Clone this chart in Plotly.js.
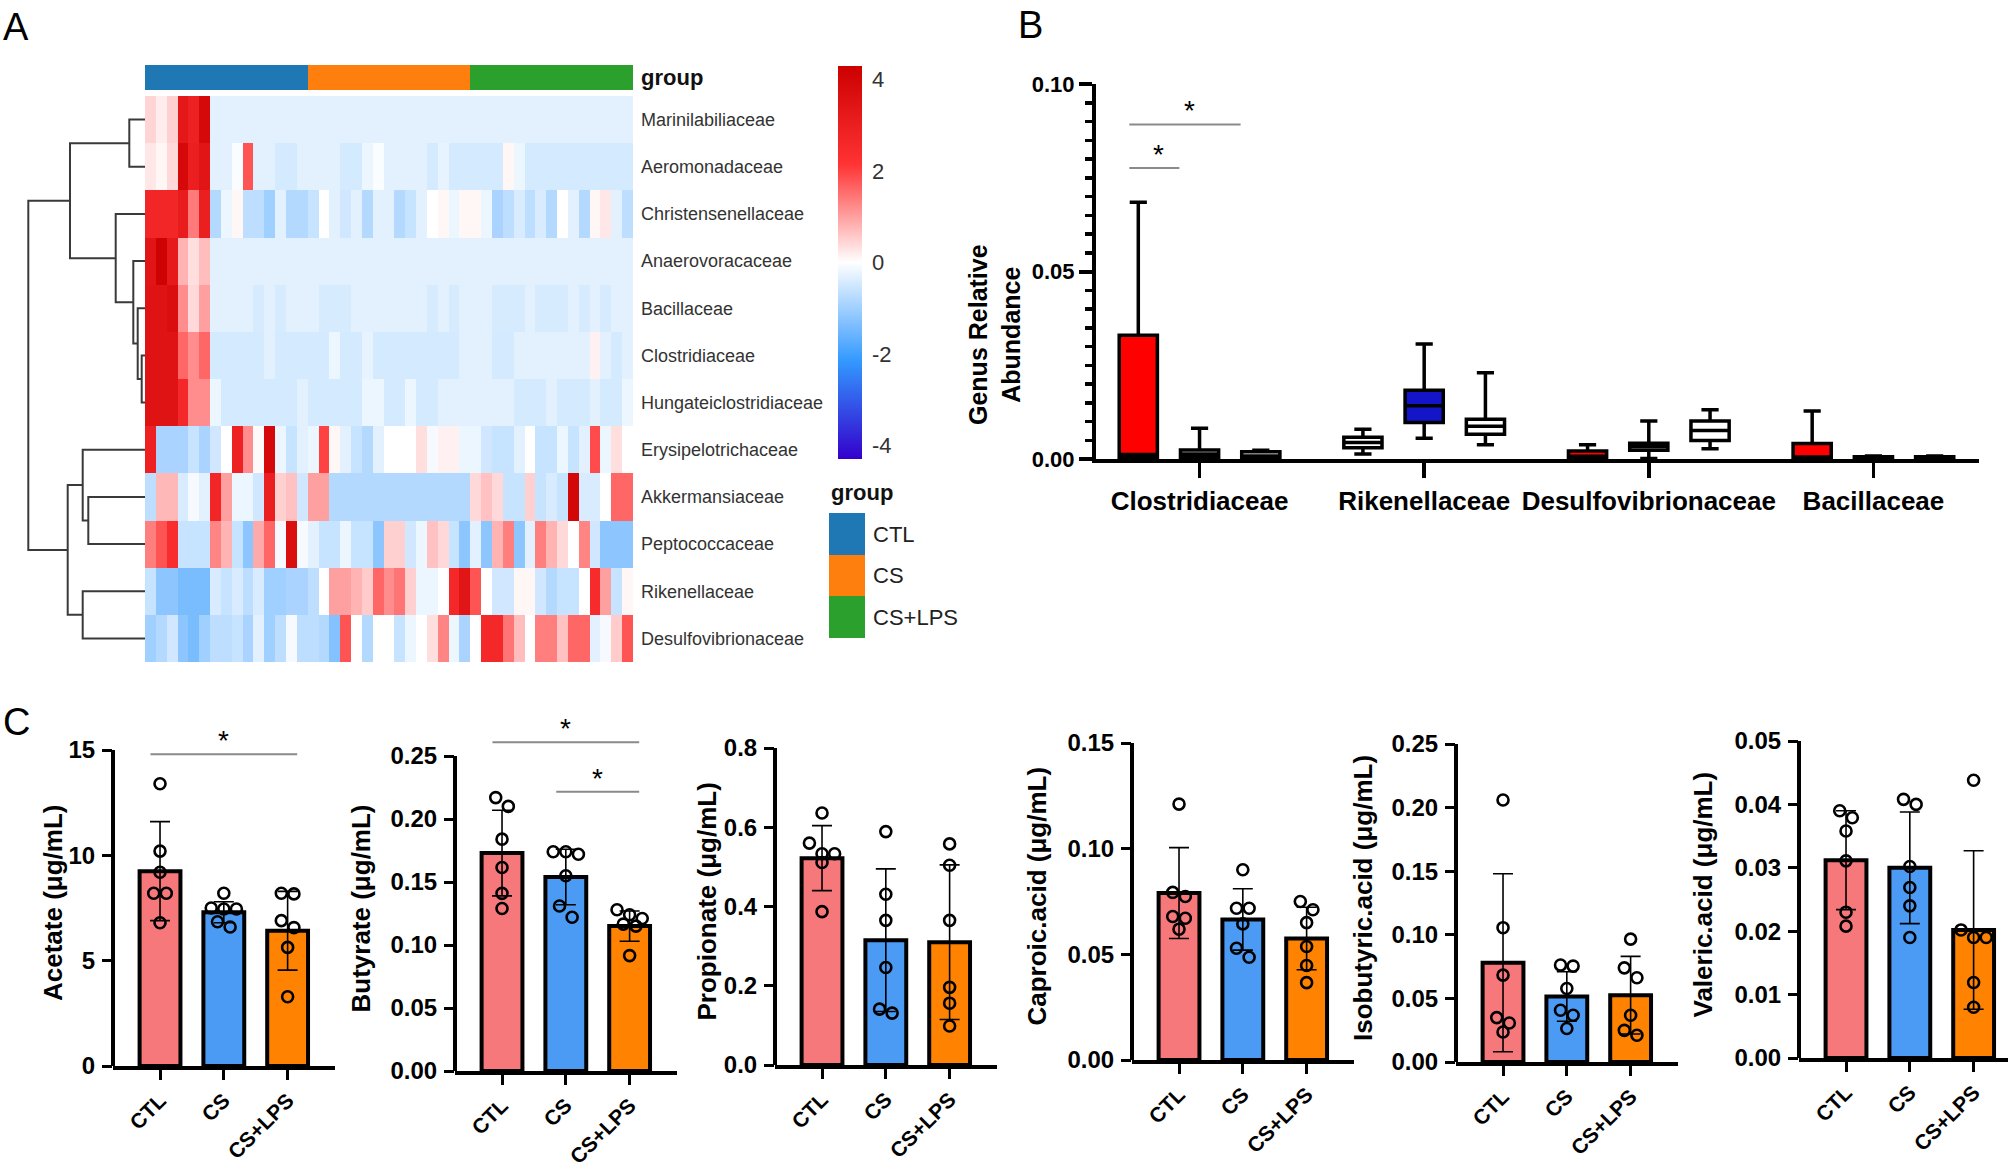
<!DOCTYPE html>
<html>
<head>
<meta charset="utf-8">
<script src="https://cdn.plot.ly/plotly-3.0.1.min.js"></script>
<style>
html,body{margin:0;padding:0;background:#ffffff;}
#chart{width:2008px;height:1170px;}
</style>
</head>
<body>
<div id="chart"></div>
<script>
// ================= Panel A : heatmap data =================
const families = ['Marinilabiliaceae','Aeromonadaceae','Christensenellaceae','Anaerovoracaceae','Bacillaceae','Clostridiaceae','Hungateiclostridiaceae','Erysipelotrichaceae','Akkermansiaceae','Peptococcaceae','Rikenellaceae','Desulfovibrionaceae'];
const groupNames = ['CTL','CS','CS+LPS'];
const samplesPerGroup = [15,15,15];
const heatZ = [
 [0.45,0.2,0.5,3.3,2.9,3.9,-0.3,-0.3,-0.3,-0.3,-0.3,-0.3,-0.3,-0.3,-0.3, -0.3,-0.3,-0.3,-0.3,-0.3,-0.3,-0.3,-0.3,-0.3,-0.3,-0.3,-0.3,-0.3,-0.3,-0.3, -0.3,-0.3,-0.3,-0.3,-0.3,-0.3,-0.3,-0.3,-0.3,-0.3,-0.3,-0.3,-0.3,-0.3,-0.3],
 [0.25,0.1,0.4,3.9,3.0,3.4,-0.3,-0.3,-0.05,1.8,-0.3,-0.3,-0.45,-0.45,-0.3, -0.3,-0.3,-0.3,-0.45,-0.45,-0.2,-0.05,-0.3,-0.3,-0.3,-0.3,-0.45,-0.25,-0.45,-0.45, -0.45,-0.45,-0.45,0.1,-0.2,-0.45,-0.45,-0.45,-0.45,-0.45,-0.45,-0.45,-0.45,-0.45,-0.45],
 [2.7,2.7,2.7,3.1,1.4,3.0,-0.8,-0.2,0.1,-0.7,-0.7,-1.0,-0.3,-0.8,-0.8, -0.6,0.0,-0.3,-0.5,-0.3,-0.8,-0.3,-0.3,-0.8,-0.6,-0.3,0.0,0.1,-0.2,0.1, 0.1,-0.2,-0.9,-0.7,-0.4,-0.7,-0.4,-0.8,0.0,-0.3,-0.8,0.1,0.25,-0.3,-0.7],
 [3.4,4.2,3.2,0.8,0.35,0.7,-0.3,-0.3,-0.3,-0.3,-0.3,-0.3,-0.3,-0.3,-0.3, -0.3,-0.3,-0.3,-0.3,-0.3,-0.3,-0.3,-0.3,-0.3,-0.3,-0.3,-0.3,-0.3,-0.3,-0.3, -0.3,-0.3,-0.3,-0.3,-0.3,-0.3,-0.3,-0.3,-0.3,-0.3,-0.3,-0.3,-0.3,-0.3,-0.3],
 [3.5,3.5,3.7,1.2,0.4,1.0,-0.3,-0.3,-0.3,-0.3,-0.42,-0.3,-0.42,-0.3,-0.3, -0.3,-0.42,-0.42,-0.42,-0.3,-0.3,-0.3,-0.3,-0.3,-0.3,-0.3,-0.42,-0.3,-0.42,-0.3, -0.3,-0.3,-0.42,-0.42,-0.42,-0.3,-0.42,-0.42,-0.42,-0.3,-0.42,-0.3,-0.42,-0.3,-0.3],
 [3.5,3.5,3.5,1.6,1.2,1.6,-0.45,-0.45,-0.45,-0.45,-0.45,-0.3,-0.45,-0.45,-0.45, -0.45,-0.45,-0.2,-0.45,-0.45,-0.25,-0.45,-0.45,-0.45,-0.45,-0.45,-0.45,-0.45,-0.45,-0.3, -0.3,-0.3,-0.45,-0.45,-0.3,-0.3,-0.3,-0.3,-0.3,-0.3,-0.3,0.15,-0.3,-0.45,-0.3],
 [3.5,3.5,3.5,2.6,1.2,1.2,-0.2,-0.45,-0.45,-0.45,-0.45,-0.45,-0.45,-0.45,-0.3, -0.45,-0.45,-0.45,-0.45,-0.45,-0.2,-0.2,-0.45,-0.45,-0.2,-0.45,-0.45,-0.3,-0.3,-0.3, -0.3,-0.3,-0.3,-0.3,-0.45,-0.45,-0.45,-0.3,-0.45,-0.45,-0.45,-0.3,-0.45,-0.45,-0.2],
 [2.9,-0.9,-0.9,-0.9,-0.6,-0.9,-0.5,0.0,2.9,1.2,0.05,3.9,-0.2,-0.6,-0.3, -0.2,2.0,0.1,-0.3,-0.6,-0.8,-0.3,0.0,0.0,0.0,0.35,-0.1,0.15,0.15,-0.2, -0.2,-0.5,-0.6,-0.6,-0.3,0.0,-0.6,-0.6,-0.2,-0.6,-0.3,1.9,-0.2,0.35,0.0],
 [-0.7,0.75,0.75,-0.4,-0.1,-0.3,2.7,1.0,-0.2,-0.2,-0.5,3.0,0.5,0.65,-0.5, 1.0,1.0,-0.8,-0.8,-0.8,-0.8,-0.8,-0.8,-0.8,-0.8,-0.8,-0.8,-0.8,-0.8,-0.8, 0.4,0.65,0.4,-0.6,-0.6,0.5,-0.6,-0.4,-0.6,4.0,-0.4,-0.4,0.0,1.6,1.6],
 [1.35,1.8,2.4,-0.6,-0.6,-0.6,1.3,0.8,-0.6,-1.2,0.9,1.6,-0.1,3.7,-0.1, -0.3,-0.6,-0.6,-0.2,-0.6,-0.6,-1.2,0.5,0.5,-0.5,-0.2,0.65,0.4,-0.6,-1.2, -0.3,-1.2,0.8,1.35,-1.2,-0.3,1.35,0.8,0.4,0.0,1.3,-0.5,-1.2,-1.2,-1.2],
 [-0.6,-1.2,-1.2,-1.4,-1.4,-1.4,-0.4,-0.6,-0.4,-0.7,-0.4,-1.0,-1.0,-0.9,-0.9, -0.7,0.0,1.0,1.0,0.8,0.55,1.6,1.2,1.45,0.5,-0.2,-0.2,0.0,2.6,3.4, 1.8,0.0,-0.5,-0.5,0.1,0.1,-0.5,-0.8,-0.6,-0.6,0.0,2.5,1.0,-0.6,0.1],
 [-1.0,-0.8,-0.5,-1.2,-1.4,-1.0,-0.7,-0.7,-0.6,-0.9,-0.3,-1.0,-0.7,-0.1,-0.7, -0.7,-0.8,-1.3,1.8,0.0,-0.8,0.0,0.0,-0.6,-0.2,0.0,0.35,1.3,-0.2,-0.9, 0.0,2.6,2.6,1.45,0.7,0.0,1.35,1.35,0.65,1.6,1.6,-0.3,-0.1,0.55,1.8]
];
// hierarchical clustering merges: [childA, childB, height]; negative = leaf (row) -(i+1), positive = merge number
const dendroMerges = [
 [-6,-7,3.3],[-5,1,7.3],[-4,2,11.7],[-1,-2,15.7],[-3,3,29.3],[4,5,75.0],
 [-9,-10,56.7],[-8,7,62.3],[-11,-12,62.3],[8,9,77.3],[6,10,116.7]
];
const colorbarTicks = [-4,-2,0,2,4];
const colorbarTickText = ['-4','-2','0','2','4'];

// ================= Panel B : box data =================
const bFamilies = ['Clostridiaceae','Rikenellaceae','Desulfovibrionaceae','Bacillaceae'];
const bLower = [[0,0.0013,0,0],[0,0.0055,0.0001,0],[0,0.0038,0.0027,0]];
const bQ1    = [[0.0003,0.003,0.0002,0.0002],[0.0004,0.0097,0.0023,0.0001],[0.0003,0.0066,0.0049,0.0001]];
const bMed   = [[0.0012,0.0044,0.0007,0.0005],[0.0013,0.0142,0.0033,0.0003],[0.0008,0.0087,0.0076,0.0003]];
const bQ3    = [[0.033,0.0058,0.0021,0.0041],[0.0024,0.0183,0.0042,0.0006],[0.0019,0.0106,0.0101,0.0006]];
const bUpper = [[0.0685,0.0079,0.0038,0.0128],[0.0082,0.0307,0.0101,0.0008],[0.0023,0.023,0.0131,0.0008]];
const bSig = [[0,0,2,0.0892],[0,0,1,0.0776]]; // [category, fromGroup, toGroup, y]

// ================= Panel C : SCFA data =================
const acetateMean = [9.25,7.3,6.42];
const acetateSD = [2.35,0.5,1.87];
const acetatePts = [[13.4,10.2,9.2,8.2,8.2,6.8],[8.2,7.45,7.45,7.5,6.85,6.6],[8.17,8.2,6.9,6.57,5.63,3.29]];
const butyrateMean = [0.173,0.154,0.115];
const butyrateSD = [0.034,0.022,0.012];
const butyratePts = [[0.217,0.21,0.184,0.1615,0.141,0.129],[0.174,0.172,0.174,0.155,0.131,0.122],[0.128,0.124,0.121,0.1166,0.115,0.0916]];
const propionateMean = [0.522,0.315,0.31];
const propionateSD = [0.082,0.18,0.195];
const propionatePts = [[0.636,0.56,0.533,0.533,0.511,0.387],[0.589,0.431,0.365,0.246,0.141,0.131],[0.558,0.504,0.365,0.196,0.156,0.0985]];
const caproicMean = [0.079,0.0665,0.0575];
const caproicSD = [0.0215,0.0145,0.0148];
const caproicPts = [[0.1211,0.0793,0.0774,0.0679,0.0671,0.0619],[0.09,0.0718,0.0718,0.0644,0.0529,0.0486],[0.075,0.0711,0.065,0.0537,0.0447,0.0366]];
const isobutyricMean = [0.078,0.0515,0.0525];
const isobutyricSD = [0.07,0.0195,0.0305];
const isobutyricPts = [[0.206,0.1056,0.0683,0.0349,0.0307,0.0236],[0.0754,0.0762,0.0578,0.0407,0.0368,0.0263],[0.0966,0.074,0.0662,0.0368,0.0249,0.021]];
const valericMean = [0.0312,0.030,0.0202];
const valericSD = [0.0078,0.0088,0.0125];
const valericPts = [[0.0379,0.039,0.0358,0.0311,0.023,0.0208],[0.04,0.0408,0.0302,0.0269,0.024,0.019],[0.0438,0.0202,0.019,0.019,0.0119,0.008]];
const acetateSig = [[0,2,14.8]];
const butyrateSig = [[0,2,0.261],[1,2,0.2216]];

// ================= styles / geometry =================
const FONT = 'Liberation Sans, Arial, Helvetica, sans-serif';
const W = 2008, H = 1170;
const px = v => v / W;
const py = v => 1 - v / H;
const groupColors = ['#1F77B4','#FF7F0E','#2CA02C'];
const heatScale = [[0,'#3300CC'],[0.25,'#3399FF'],[0.5,'#FFFFFF'],[0.75,'#FF3333'],[1,'#CC0000']];
const bFill = [['#FF0000','#FFFFFF','#FF0000','#FF0000'],['#FFFFFF','#1414C8','#FFFFFF','#FFFFFF'],['#FFFFFF','#FFFFFF','#FFFFFF','#FFFFFF']];
const cColors = ['#F7787B','#4B9BF5','#FF8200'];

const traces = [];
const annotations = [];
const shapes = [];
const layout = {
  width: W, height: H, margin: {l:0,r:0,t:0,b:0},
  paper_bgcolor: '#ffffff', plot_bgcolor: 'rgba(0,0,0,0)',
  showlegend: false, font: {family: FONT, color: '#000'},
  annotations, shapes
};

// ---------- heatmap ----------
const nCols = samplesPerGroup.reduce((a,b)=>a+b,0);
const colIdx = Array.from({length:nCols},(_,i)=>i);
const rowIdx = families.map((_,i)=>i);
const colGroup = [];
samplesPerGroup.forEach((n,g)=>{ for(let k=0;k<n;k++) colGroup.push(g); });

traces.push({
  type:'heatmap', z: heatZ, x: colIdx, y: rowIdx, xaxis:'x', yaxis:'y',
  colorscale: heatScale, zmin:-4.3, zmax:4.3, hoverinfo:'skip',
  colorbar: {x: px(838), xanchor:'left', y: py(66), yanchor:'top', len: (459-66)/H, lenmode:'fraction',
    thickness: 24, thicknessmode:'pixels', outlinewidth:0, xpad:0, ypad:0,
    tickmode:'array', tickvals:colorbarTicks, ticktext:colorbarTickText, ticks:'outside', ticklen:6, tickcolor:'rgba(0,0,0,0)',
    tickfont:{family:FONT, size:22, color:'#333'}}
});
layout.xaxis = {domain:[px(145),px(633)], range:[-0.5,nCols-0.5], visible:false, fixedrange:true};
layout.yaxis = {domain:[py(662),py(96)], range:[families.length-0.5,-0.5], tickmode:'array', tickvals:rowIdx, ticktext:families,
  side:'right', ticks:'', showgrid:false, zeroline:false, showline:false, ticklabelstandoff:7,
  tickfont:{family:FONT, size:18, color:'#333'}, fixedrange:true};

// group annotation bar
const discScale = [[0,groupColors[0]],[1/3,groupColors[0]],[1/3,groupColors[1]],[2/3,groupColors[1]],[2/3,groupColors[2]],[1,groupColors[2]]];
traces.push({type:'heatmap', z:[colGroup], x:colIdx, y:[0], xaxis:'x2', yaxis:'y2', colorscale:discScale, zmin:-0.5, zmax:2.5, showscale:false, hoverinfo:'skip'});
layout.xaxis2 = {domain:[px(145),px(633)], range:[-0.5,nCols-0.5], visible:false, anchor:'y2'};
layout.yaxis2 = {domain:[py(90),py(65)], range:[-0.5,0.5], anchor:'x2', side:'right', tickmode:'array', tickvals:[0], ticktext:['group'],
  ticks:'', showgrid:false, zeroline:false, ticklabelstandoff:7, tickfont:{family:FONT, size:22, color:'#111', weight:700}};

// dendrogram
(function(){
  const pos=[], hgt=[], xs=[], ys=[];
  const info = r => r<0 ? {y:-r-1, h:0} : {y:pos[r-1], h:hgt[r-1]};
  dendroMerges.forEach((m,i)=>{
    const a=info(m[0]), b=info(m[1]), h=m[2];
    xs.push(a.h,h,h,b.h,null); ys.push(a.y,a.y,b.y,b.y,null);
    pos[i]=(a.y+b.y)/2; hgt[i]=h;
  });
  traces.push({type:'scatter', mode:'lines', x:xs, y:ys, xaxis:'x3', yaxis:'y', line:{color:'#3a3a3a', width:2}, hoverinfo:'skip', cliponaxis:false});
})();
layout.xaxis3 = {domain:[px(26),px(145)], range:[119,0], visible:false, anchor:'y'};

// group legend
traces.push({type:'heatmap', z:[[0],[1],[2]], x:[0], y:[0,1,2], xaxis:'x11', yaxis:'y11', colorscale:discScale, zmin:-0.5, zmax:2.5, showscale:false, hoverinfo:'skip'});
layout.xaxis11 = {domain:[px(829),px(865)], range:[-0.5,0.5], visible:false, anchor:'y11'};
layout.yaxis11 = {domain:[py(638),py(513)], range:[2.5,-0.5], anchor:'x11', side:'right', tickmode:'array', tickvals:[0,1,2], ticktext:groupNames,
  ticks:'', showgrid:false, zeroline:false, ticklabelstandoff:7, tickfont:{family:FONT, size:22, color:'#222'}};
annotations.push({text:'group', xref:'paper', yref:'paper', x:px(829), y:py(492), xanchor:'left', yanchor:'middle', showarrow:false, font:{family:FONT, size:22, color:'#111', weight:700}});

// ---------- Panel B ----------
const bOffset = 0.2727, bBoxW = 0.17;
for (let g=0; g<3; g++) {
  for (let c=0; c<bFamilies.length; c++) {
    traces.push({type:'box', xaxis:'x4', yaxis:'y4', x:[c+(g-1)*bOffset],
      q1:[bQ1[g][c]], median:[bMed[g][c]], q3:[bQ3[g][c]], lowerfence:[bLower[g][c]], upperfence:[bUpper[g][c]],
      width:bBoxW, whiskerwidth:0.45, fillcolor:bFill[g][c], line:{color:'#000', width:3.5},
      boxpoints:false, hoverinfo:'skip', showlegend:false});
  }
}
layout.xaxis4 = {domain:[px(1096),px(1979)], range:[-0.461,3.47], anchor:'y4', tickmode:'array', tickvals:bFamilies.map((_,i)=>i), ticktext:bFamilies,
  ticks:'outside', ticklen:15, tickwidth:3.5, tickcolor:'#000', showline:true, linewidth:4, linecolor:'#000', showgrid:false, zeroline:false,
  ticklabelstandoff:1, tickfont:{family:FONT, size:26, color:'#000', weight:700}};
layout.yaxis4 = {domain:[py(459),py(84)], range:[0,0.1], anchor:'x4', tickmode:'array', tickvals:[0,0.05,0.1], tickformat:'.2f',
  ticks:'outside', ticklen:13, tickwidth:4, tickcolor:'#000', showline:true, linewidth:4, linecolor:'#000', showgrid:false, zeroline:false,
  minor:{dtick:0.005, ticks:'outside', ticklen:7, tickwidth:3.5, tickcolor:'#000', showgrid:false},
  ticklabelstandoff:0, tickfont:{family:FONT, size:22, color:'#000', weight:700}};
bSig.forEach(s=>{
  const x0 = s[0]+(s[1]-1)*bOffset-0.04, x1 = s[0]+(s[2]-1)*bOffset-0.09;
  shapes.push({type:'line', xref:'x4', yref:'y4', x0:x0, x1:x1, y0:s[3], y1:s[3], line:{color:'#8a8a8a', width:2}});
  annotations.push({text:'*', xref:'x4', yref:'y4', x:(x0+x1)/2+0.02, y:s[3], xanchor:'center', yanchor:'bottom', yshift:-4, showarrow:false, font:{family:FONT, size:28, color:'#000'}});
});
annotations.push({text:'Genus Relative<br>Abundance', xref:'paper', yref:'paper', x:px(994), y:py(335), xanchor:'center', yanchor:'middle', textangle:-90, showarrow:false,
  font:{family:FONT, size:25, color:'#000', weight:700}});

// ---------- Panel C ----------
const cSub = [
  {mean:acetateMean, sd:acetateSD, pts:acetatePts, ticks:[0,5,10,15], fmt:'d', title:'Acetate (μg/mL)', sig:acetateSig},
  {mean:butyrateMean, sd:butyrateSD, pts:butyratePts, ticks:[0,0.05,0.1,0.15,0.2,0.25], fmt:'.2f', title:'Butyrate (μg/mL)', sig:butyrateSig},
  {mean:propionateMean, sd:propionateSD, pts:propionatePts, ticks:[0,0.2,0.4,0.6,0.8], fmt:'.1f', title:'Propionate (μg/mL)', sig:[]},
  {mean:caproicMean, sd:caproicSD, pts:caproicPts, ticks:[0,0.05,0.1,0.15], fmt:'.2f', title:'Caproic.acid (μg/mL)', sig:[]},
  {mean:isobutyricMean, sd:isobutyricSD, pts:isobutyricPts, ticks:[0,0.05,0.1,0.15,0.2,0.25], fmt:'.2f', title:'Isobutyric.acid (μg/mL)', sig:[]},
  {mean:valericMean, sd:valericSD, pts:valericPts, ticks:[0,0.01,0.02,0.03,0.04,0.05], fmt:'.2f', title:'Valeric.acid (μg/mL)', sig:[]}
];
const cAxisX = [113, 455, 775, 1132, 1456, 1799];
const cZeroY = [1066, 1071, 1065, 1060, 1062, 1058];
const cTopY  = [750, 756, 748, 743, 744, 741];
const cTitleOff = [60, 95, 69, 96, 93, 96];
const unitPx = 63.8, xLeft = -0.737, plotW = 221.6, yExt = 1.15, dotD = 12;

function swarm(vals, pxY, pxX, d) {
  const idx = vals.map((v,i)=>i).sort((a,b)=>vals[b]-vals[a]);
  const off = vals.map(()=>0);
  const rows = []; let cur = [idx[0]];
  for (let k=1;k<idx.length;k++) {
    if ((vals[cur[0]]-vals[idx[k]])*pxY < d) cur.push(idx[k]); else { rows.push(cur); cur=[idx[k]]; }
  }
  rows.push(cur);
  rows.forEach(r=>r.forEach((id,j)=>{ off[id] = (j-(r.length-1)/2)*d*1.05/pxX; }));
  return off;
}

cSub.forEach((s,i)=>{
  const n = 5+i, xa='x'+n, ya='y'+n;
  const top = s.ticks[s.ticks.length-1];
  const x0 = cAxisX[i], x1 = Math.min(W, x0+plotW);
  const xMax = xLeft + (x1-x0)/unitPx;
  const pxY = (cZeroY[i]-cTopY[i])/top;
  const domTop = cZeroY[i] - (cZeroY[i]-cTopY[i])*yExt;
  traces.push({type:'bar', x:[0,1,2], y:s.mean, width:0.64, xaxis:xa, yaxis:ya,
    marker:{color:cColors, line:{color:'#000', width:4}},
    error_y:{type:'data', array:s.sd, visible:true, color:'#000', thickness:1.6, width:10}, hoverinfo:'skip'});
  const xs=[], ys=[];
  s.pts.forEach((arr,g)=>{
    const off = swarm(arr, pxY, unitPx, dotD);
    arr.forEach((v,k)=>{ xs.push(g+off[k]); ys.push(v); });
  });
  traces.push({type:'scatter', mode:'markers', x:xs, y:ys, xaxis:xa, yaxis:ya, cliponaxis:false, hoverinfo:'skip',
    marker:{symbol:'circle-open', size:11, color:'#000', line:{width:2.6}}});
  layout['xaxis'+n] = {domain:[px(x0),px(x1)], range:[xLeft,xMax], anchor:ya, tickmode:'array', tickvals:[0,1,2], ticktext:groupNames,
    tickangle:-45, ticks:'outside', ticklen:10, tickwidth:3, tickcolor:'#000', showline:true, linewidth:4, linecolor:'#000',
    showgrid:false, zeroline:false, tickfont:{family:FONT, size:21, color:'#000', weight:700}};
  layout['yaxis'+n] = {domain:[py(cZeroY[i]),py(domTop)], range:[0, top*yExt], anchor:xa, tickmode:'array', tickvals:s.ticks, tickformat:s.fmt,
    ticks:'outside', ticklen:10, tickwidth:3, tickcolor:'#000', showline:false, showgrid:false, zeroline:false,
    ticklabelstandoff:2, tickfont:{family:FONT, size:24, color:'#000', weight:700}};
  shapes.push({type:'line', xref:xa+' domain', yref:ya, x0:0, x1:0, y0:0, y1:top, line:{color:'#000', width:4}});
  s.sig.forEach(sg=>{
    const sx0 = sg[0]-0.15, sx1 = sg[1]+0.15;
    shapes.push({type:'line', xref:xa, yref:ya, x0:sx0, x1:sx1, y0:sg[2], y1:sg[2], line:{color:'#8a8a8a', width:2}});
    annotations.push({text:'*', xref:xa, yref:ya, x:(sx0+sx1)/2, y:sg[2], xanchor:'center', yanchor:'bottom', yshift:-4, showarrow:false, font:{family:FONT, size:28, color:'#000'}});
  });
  annotations.push({text:s.title, xref:'paper', yref:'paper', x:px(x0-cTitleOff[i]), y:py((cZeroY[i]+cTopY[i])/2-5), xanchor:'center', yanchor:'middle',
    textangle:-90, showarrow:false, font:{family:FONT, size:26, color:'#000', weight:700}});
});

// panel letters
[['A',16,27],['B',1030,25],['C',16,722]].forEach(p=>{
  annotations.push({text:p[0], xref:'paper', yref:'paper', x:px(p[1]), y:py(p[2]), xanchor:'center', yanchor:'middle', showarrow:false, font:{family:FONT, size:38, color:'#000'}});
});

Plotly.newPlot('chart', traces, layout, {displayModeBar:false, staticPlot:true});
</script>
</body>
</html>
